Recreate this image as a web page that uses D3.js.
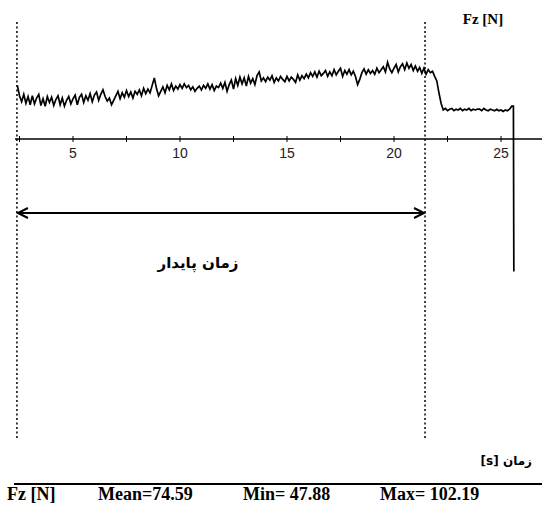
<!DOCTYPE html>
<html>
<head>
<meta charset="utf-8">
<script src="https://cdn.jsdelivr.net/npm/d3@7"></script>
<style>
  body { margin: 0; background: #fff; }
  svg { display: block; }
</style>
</head>
<body>
<div id="chart"></div>
<script>
// force Fz [N], sampled every 0.1 s starting at 2.4 s
const sampleStart = 2.4;
const sampleStep = 0.1;
const forceValues = [
  72, 58, 50, 60, 48, 57,
  46, 58, 47, 55, 60, 45, 54, 44, 57, 49,
  56, 45, 53, 58, 46, 55, 44, 52, 57, 47,
  54, 59, 46, 56, 60, 49, 58, 52, 61, 50,
  59, 63, 52, 60, 66, 57, 51, 55, 46, 52,
  58, 64, 54, 62, 56, 65, 57, 63, 55, 64,
  60, 66, 58, 68, 61, 67, 62, 72, 82, 68,
  58, 64, 70, 62, 72, 66, 74, 65, 71, 67,
  73, 68, 74, 69, 72, 66, 70, 64, 68, 71,
  66, 72, 68, 74, 67, 73, 65, 71, 69, 75,
  68, 76, 64, 73, 79, 67, 81, 72, 83, 74,
  82, 71, 84, 75, 81, 73, 85, 90, 78, 82,
  77, 83, 79, 85, 76, 82, 78, 84, 80, 77,
  84, 78, 83, 80, 76, 86, 79, 85, 81, 87,
  82, 89, 84, 90, 83, 91, 85, 88, 92, 84,
  90, 85, 93, 86, 91, 95, 84, 92, 87, 93,
  86, 91, 84, 73, 80, 89, 94, 87, 93, 88,
  92, 87, 95, 89, 93, 97, 90, 103, 94, 89,
  95, 100, 90, 97, 101, 93, 102, 95, 100, 92,
  98, 91, 96, 88, 95, 87, 93, 89, 91, 84,
  78, 62, 48, 39, 41, 38, 40, 41, 38, 40,
  39, 41, 38, 40, 39, 41, 38, 40, 39, 40,
  40, 38, 41, 39, 38, 40, 39, 38, 40, 38,
  39, 37, 39, 38, 40, 44
];
const breakTime = 25.6;
const breakValue = -178;

const xTicks = [2.5, 5, 7.5, 10, 12.5, 15, 17.5, 20, 22.5, 25];
const xLabels = [5, 10, 15, 20, 25];
const steadyStart = 2.38;
const steadyEnd = 21.45;

const statLabels = ['Fz [N]', 'Mean=74.59', 'Min= 47.88', 'Max= 102.19'];
const statX = [7, 98, 243, 380];

const width = 542;
const height = 505;

const svg = d3.select('#chart').append('svg')
  .attr('width', width)
  .attr('height', height);

const x = d3.scaleLinear().domain([5, 25]).range([73, 501]);
const y = d3.scaleLinear().domain([-180, 0]).range([273.1, 139]);

const data = forceValues.map((v, i) => ({ t: sampleStart + i * sampleStep, v }));
data.push({ t: breakTime - 0.02, v: forceValues[forceValues.length - 1] });
data.push({ t: breakTime, v: breakValue });

// x axis line
svg.append('line')
  .attr('x1', 15).attr('x2', width)
  .attr('y1', y(0)).attr('y2', y(0))
  .attr('stroke', '#000')
  .attr('stroke-width', 1.6);

svg.selectAll('.tick')
  .data(xTicks)
  .enter().append('line')
  .attr('class', 'tick')
  .attr('x1', d => x(d)).attr('x2', d => x(d))
  .attr('y1', y(0) - 3).attr('y2', y(0) + 3)
  .attr('stroke', '#000')
  .attr('stroke-width', 1);

svg.selectAll('.tickLabel')
  .data(xLabels)
  .enter().append('text')
  .attr('class', 'tickLabel')
  .attr('x', d => x(d))
  .attr('y', y(0) + 19)
  .attr('text-anchor', 'middle')
  .style('font-family', 'Liberation Sans, Arial, sans-serif')
  .style('font-size', '14px')
  .style('fill', '#222')
  .text(d => d);

// steady-state markers
svg.selectAll('.marker')
  .data([steadyStart, steadyEnd])
  .enter().append('line')
  .attr('class', 'marker')
  .attr('x1', d => x(d)).attr('x2', d => x(d))
  .attr('y1', 22).attr('y2', 440)
  .attr('stroke', '#000')
  .attr('stroke-width', 1.5)
  .attr('stroke-dasharray', '2,2.5');

// force trace
const line = d3.line()
  .x(d => x(d.t))
  .y(d => y(d.v));

svg.append('path')
  .datum(data)
  .attr('d', line)
  .attr('fill', 'none')
  .attr('stroke', '#000')
  .attr('stroke-width', 1.7)
  .attr('stroke-linejoin', 'miter');

// double arrow
const arrowY = 213;
const x1 = x(steadyStart) + 1;
const x2 = x(steadyEnd) - 1;
svg.append('line')
  .attr('x1', x1).attr('x2', x2)
  .attr('y1', arrowY).attr('y2', arrowY)
  .attr('stroke', '#000')
  .attr('stroke-width', 2);
svg.append('path')
  .attr('d', `M${x1 + 10},${arrowY - 5}L${x1},${arrowY}L${x1 + 10},${arrowY + 5}`)
  .attr('fill', 'none').attr('stroke', '#000').attr('stroke-width', 2);
svg.append('path')
  .attr('d', `M${x2 - 10},${arrowY - 5}L${x2},${arrowY}L${x2 - 10},${arrowY + 5}`)
  .attr('fill', 'none').attr('stroke', '#000').attr('stroke-width', 2);

svg.append('text')
  .attr('x', 198)
  .attr('y', 268)
  .attr('text-anchor', 'middle')
  .style('font-family', 'DejaVu Sans, sans-serif')
  .style('font-weight', 'bold')
  .style('font-size', '15px')
  .text('زمان پایدار');

// axis titles
svg.append('text')
  .attr('x', 483)
  .attr('y', 24)
  .attr('text-anchor', 'middle')
  .style('font-family', 'Liberation Serif, serif')
  .style('font-weight', 'bold')
  .style('font-size', '15px')
  .text('Fz [N]');

svg.append('text')
  .attr('x', 532)
  .attr('y', 465)
  .attr('text-anchor', 'end')
  .style('font-family', 'DejaVu Sans, sans-serif')
  .style('font-weight', 'bold')
  .style('font-size', '12px')
  .text('[s] زمان');

// stats row
svg.append('line')
  .attr('x1', 14).attr('x2', width)
  .attr('y1', 484).attr('y2', 484)
  .attr('stroke', '#000')
  .attr('stroke-width', 2);

svg.selectAll('.stat')
  .data(statLabels)
  .enter().append('text')
  .attr('class', 'stat')
  .attr('x', (d, i) => statX[i])
  .attr('y', 500)
  .style('font-family', 'Liberation Serif, serif')
  .style('font-weight', 'bold')
  .style('font-size', '18px')
  .text(d => d);
</script>
</body>
</html>
